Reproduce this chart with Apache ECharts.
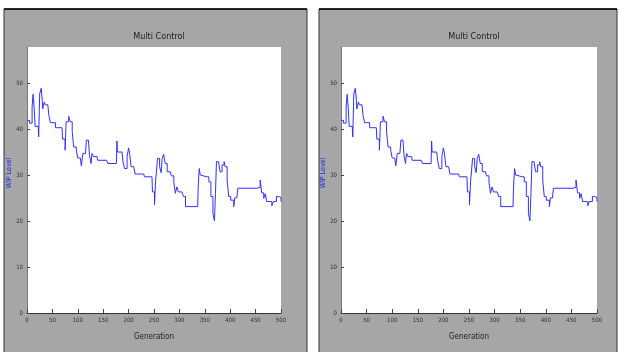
<!DOCTYPE html>
<html>
<head>
<meta charset="utf-8">
<script src="https://cdn.jsdelivr.net/npm/echarts@6/dist/echarts.min.js"></script>
<style>
html,body{margin:0;padding:0;background:#fff;}
#c{width:619px;height:352px;}
</style>
</head>
<body>
<div id="c"></div>
<script>
// Data (generation, WIP level)
var generations = [0,5,10,10,12,14,16,22,23,25,28,30,31,34,36,41,43,46,56,56,69,70,75,75,77,82,85,89,92,97,100,105,107,110,115,117,121,123,126,128,131,138,139,157,159,176,177,178,187,189,192,195,197,200,202,205,210,213,230,231,246,247,251,251,253,256,257,261,264,266,269,272,276,282,284,289,292,295,298,305,308,312,336,337,339,341,344,354,358,362,366,369,371,373,377,380,384,388,390,394,396,397,401,407,409,413,415,453,456,459,462,466,469,472,478,482,485,491,495,500];
var wipLevel = [42.0,41.4,41.4,44.9,47.7,44.9,40.7,40.7,38.4,47.8,49.0,46.4,44.5,46.0,45.4,45.4,43.1,41.5,41.5,40.4,40.4,37.9,37.9,35.5,41.7,42.9,41.7,39.5,36.2,35.5,33.8,33.8,32.1,34.8,34.8,37.7,37.7,34.4,32.6,34.8,34.1,34.1,33.3,33.3,32.6,32.6,37.5,35.1,35.1,33.0,31.5,31.5,34.1,36.0,34.8,31.9,31.9,30.3,30.3,29.7,29.7,26.4,26.4,23.6,28.6,28.6,33.7,31.9,30.6,33.7,34.6,32.6,30.8,30.8,29.9,28.6,26.1,27.5,26.4,26.4,25.4,23.2,23.2,27.5,31.5,30.1,29.7,29.7,28.6,25.4,21.7,20.1,26.1,33.0,32.6,30.8,32.3,33.0,31.9,29.0,29.0,25.4,24.6,23.2,25.1,25.1,27.2,27.2,27.4,29.0,26.2,25.0,26.0,24.3,24.3,23.4,24.3,25.4,25.2,24.3];
var xTicks = [0,50,100,150,200,250,300,350,400,450,500];
var yTicks = [0,10,20,30,40,50];
var chartTitle = 'Multi Control';
var xName = 'Generation';
var yName = 'WIP Level';

var pairs = generations.map(function(g,i){return [g, wipLevel[i]];});
var font = "'Liberation Sans Narrow','DejaVu Sans Condensed',Arial,sans-serif";

function xAxisFor(idx){
  return {
    gridIndex: idx, type:'value', min:0, max:500,
    name: xName, nameLocation:'middle', nameGap:20,
    nameTextStyle:{color:'#222', fontSize:8, fontFamily:font},
    axisLine:{show:true, lineStyle:{color:'#333', width:1}},
    axisTick:{show:true, inside:true, length:4, customValues:xTicks, lineStyle:{color:'#444'}},
    axisLabel:{customValues:xTicks, fontSize:6, color:'#333', margin:4, fontFamily:font},
    splitLine:{show:false}
  };
}
function yAxisFor(idx){
  return {
    gridIndex: idx, type:'value', min:0, max:58,
    name: yName, nameLocation:'middle', nameGap:11,
    nameTextStyle:{color:'#2222ee', fontSize:7, fontFamily:font, padding:[0,0,0,14]},
    axisLine:{show:true, lineStyle:{color:'#777', width:1}},
    axisTick:{show:true, inside:true, length:3, customValues:yTicks, lineStyle:{color:'#444'}},
    axisLabel:{customValues:yTicks, fontSize:6, color:'#333', margin:4, fontFamily:font},
    splitLine:{show:false}
  };
}
function seriesFor(idx){
  return {
    type:'line', xAxisIndex:idx, yAxisIndex:idx, data:pairs, step:'end',
    showSymbol:false, symbol:'none', animation:false,
    lineStyle:{color:'#3030ff', width:1}
  };
}

var chart = echarts.init(document.getElementById('c'), null, {renderer:'canvas'});
chart.setOption({
  backgroundColor:'#ffffff',
  animation:false,
  graphic:[
    {type:'rect', z:-10, shape:{x:4, y:9, width:303, height:345}, style:{fill:'#a6a6a6', stroke:'#333', lineWidth:1}},
    {type:'rect', z:-10, shape:{x:319, y:9, width:298, height:345}, style:{fill:'#a6a6a6', stroke:'#333', lineWidth:1}},
    {type:'line', z:-9, shape:{x1:4, y1:9, x2:307, y2:9}, style:{stroke:'#000', lineWidth:1.5}},
    {type:'line', z:-9, shape:{x1:319, y1:9, x2:617, y2:9}, style:{stroke:'#000', lineWidth:1.5}}
  ],
  title:[
    {text:chartTitle, left:154, top:27, textAlign:'center', textStyle:{fontSize:9, fontWeight:'normal', color:'#222', fontFamily:font}},
    {text:chartTitle, left:469, top:27, textAlign:'center', textStyle:{fontSize:9, fontWeight:'normal', color:'#222', fontFamily:font}}
  ],
  grid:[
    {left:27, right:338, top:47, bottom:39, show:true, backgroundColor:'#ffffff', borderWidth:0},
    {left:341, right:22, top:47, bottom:39, show:true, backgroundColor:'#ffffff', borderWidth:0}
  ],
  xAxis:[xAxisFor(0), xAxisFor(1)],
  yAxis:[yAxisFor(0), yAxisFor(1)],
  series:[seriesFor(0), seriesFor(1)]
});
</script>
</body>
</html>
